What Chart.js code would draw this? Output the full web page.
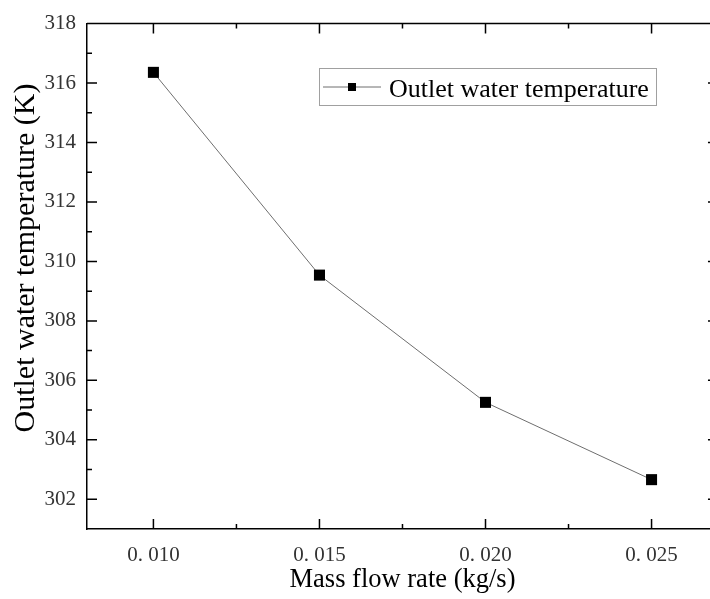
<!DOCTYPE html>
<html><head><meta charset="utf-8">
<script src="https://cdn.jsdelivr.net/npm/chart.js@4/dist/chart.umd.min.js"></script>
<style>
html,body{margin:0;padding:0;overflow:hidden;background:#fff;width:710px;height:599px}
#c{display:block}
</style>
</head><body><canvas id="c" width="710" height="599"></canvas>
<script>
const flowRates = [0.010, 0.015, 0.020, 0.025];
const outletTemps = [316.36, 309.54, 305.26, 302.66];
const seriesName = 'Outlet water temperature';
const xTickValues = [0.010, 0.015, 0.020, 0.025];
const xMinorValues = [0.0125, 0.0175, 0.0225];
const yTickValues = [302, 304, 306, 308, 310, 312, 314, 316, 318];
const yMinorValues = [303, 305, 307, 309, 311, 313, 315, 317];
const xTitle = 'Mass flow rate (kg/s)';
const yTitle = 'Outlet water temperature (K)';
// full axis range of the original frame (its right part is cropped off in the picture)
const xFrameMax = 0.027;

const serif = "'Liberation Serif','Times New Roman',serif";

const frameTicks = {
  id: 'frameTicks',
  afterDraw(chart) {
    const {ctx, chartArea: a, scales: {x, y}} = chart;
    const rightEdge = x.getPixelForValue(xFrameMax);
    ctx.save();
    ctx.strokeStyle = '#000';
    ctx.lineWidth = 1.5;
    ctx.beginPath();
    ctx.moveTo(a.left, a.top); ctx.lineTo(rightEdge, a.top);
    ctx.moveTo(rightEdge, a.top); ctx.lineTo(rightEdge, a.bottom);
    ctx.moveTo(a.right, a.bottom); ctx.lineTo(rightEdge, a.bottom);
    const tick = (px, len, vertical) => {
      if (vertical) {
        ctx.moveTo(px, a.bottom); ctx.lineTo(px, a.bottom - len);
        ctx.moveTo(px, a.top); ctx.lineTo(px, a.top + len);
      } else {
        ctx.moveTo(a.left, px); ctx.lineTo(a.left + len, px);
        ctx.moveTo(rightEdge, px); ctx.lineTo(rightEdge - len, px);
      }
    };
    xTickValues.forEach(v => tick(x.getPixelForValue(v), 10, true));
    xMinorValues.forEach(v => tick(x.getPixelForValue(v), 5, true));
    yTickValues.forEach(v => tick(y.getPixelForValue(v), 10, false));
    yMinorValues.forEach(v => tick(y.getPixelForValue(v), 5, false));
    ctx.stroke();

    ctx.fillStyle = '#000';
    // x axis title, centred on the full frame
    ctx.font = '26.5px ' + serif;
    ctx.textAlign = 'center';
    ctx.textBaseline = 'middle';
    ctx.fillText(xTitle, (a.left + rightEdge) / 2, 580);

    // y axis title (slightly above chart-area centre, as in the original)
    ctx.font = '30px ' + serif;
    ctx.save();
    ctx.translate(26, 258);
    ctx.rotate(-Math.PI / 2);
    ctx.fillText(yTitle, 0, 0);
    ctx.restore();

    // legend
    const bx = 319.5, by = 68.5, bw = 337, bh = 37;
    ctx.lineWidth = 1;
    ctx.strokeStyle = '#a0a0a0';
    ctx.strokeRect(bx, by, bw, bh);
    const ly = 87;
    ctx.strokeStyle = '#6e6e6e';
    ctx.beginPath();
    ctx.moveTo(323, ly); ctx.lineTo(381, ly);
    ctx.stroke();
    ctx.fillRect(348, ly - 4, 8, 8);
    ctx.font = '26px ' + serif;
    ctx.textBaseline = 'alphabetic';
    ctx.textAlign = 'left';
    ctx.fillText(chart.data.datasets[0].label, 389, 96.5);
    ctx.restore();
  }
};

new Chart(document.getElementById('c'), {
  type: 'line',
  data: {
    datasets: [{
      label: seriesName,
      data: flowRates.map((fx, i) => ({x: fx, y: outletTemps[i]})),
      borderColor: '#6e6e6e',
      borderWidth: 1,
      pointStyle: 'rect',
      pointRadius: 7.8,
      pointHoverRadius: 7.8,
      pointBackgroundColor: '#000',
      pointBorderColor: '#000',
      pointBorderWidth: 0,
      tension: 0,
      fill: false,
      clip: false
    }]
  },
  options: {
    responsive: false,
    maintainAspectRatio: false,
    devicePixelRatio: 1,
    animation: false,
    events: [],
    layout: {autoPadding: false, padding: {top: 20, right: 0, left: 0, bottom: 0}},
    plugins: {legend: {display: false}, tooltip: {enabled: false}},
    scales: {
      x: {
        type: 'linear', min: 0.008, max: 0.02676,
        afterBuildTicks: s => { s.ticks = xTickValues.map(v => ({value: v})); },
        afterFit: s => { s.height = 70; s.paddingLeft = 0; s.paddingRight = 0; },
        grid: {display: true, drawOnChartArea: false, drawTicks: false},
        border: {display: true, color: '#000', width: 1.5},
        ticks: {
          padding: 14, color: '#333',
          font: {family: serif, size: 21},
          maxRotation: 0, autoSkip: false,
          callback: v => v.toFixed(3).replace('.', '. ')
        },
        title: {display: false, text: xTitle}
      },
      y: {
        type: 'linear', min: 301, max: 318,
        afterBuildTicks: s => { s.ticks = yTickValues.map(v => ({value: v})); },
        afterFit: s => { s.width = 87; },
        grid: {display: true, drawOnChartArea: false, drawTicks: false},
        border: {display: true, color: '#000', width: 1.5},
        ticks: {
          padding: 11, color: '#333',
          font: {family: serif, size: 21},
          autoSkip: false,
          callback: v => String(v)
        },
        title: {display: false, text: yTitle}
      }
    }
  },
  plugins: [frameTicks]
});
</script>
</body></html>
